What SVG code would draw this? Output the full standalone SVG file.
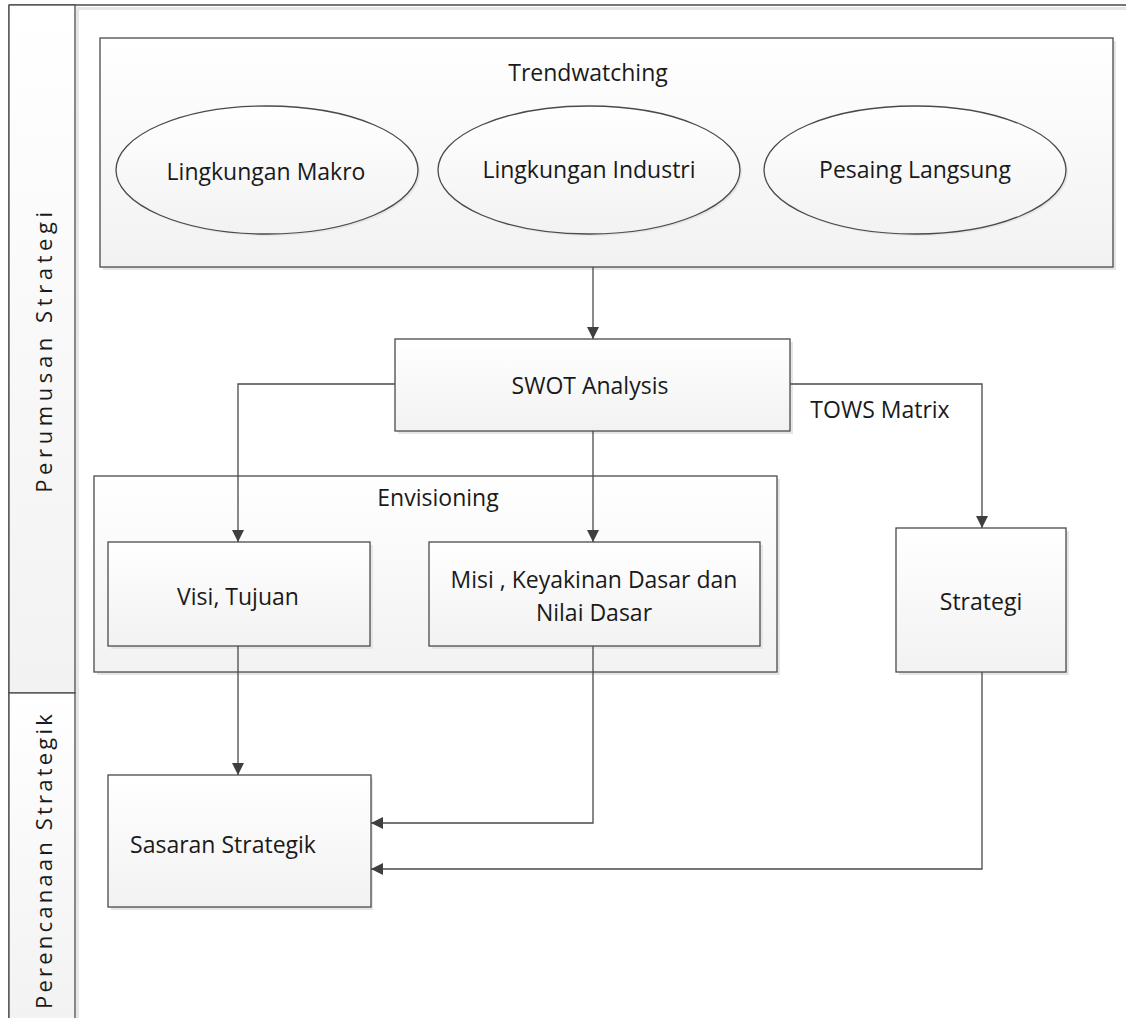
<svg xmlns="http://www.w3.org/2000/svg" width="1126" height="1018" viewBox="0 0 1126 1018">
  <defs>
    <linearGradient id="boxFill" x1="0" y1="0" x2="0" y2="1">
      <stop offset="0" stop-color="#ffffff"/>
      <stop offset="1" stop-color="#f2f2f2"/>
    </linearGradient>
    <linearGradient id="laneFill" x1="0" y1="0" x2="0" y2="1">
      <stop offset="0" stop-color="#ffffff"/>
      <stop offset="1" stop-color="#f2f2f2"/>
    </linearGradient>
    <marker id="arrow" viewBox="0 0 12 12" refX="12" refY="6" markerWidth="12" markerHeight="12" markerUnits="userSpaceOnUse" orient="auto">
      <path d="M0,0 L12,6 L0,12 Z" fill="#3f3f3f"/>
    </marker>
  </defs>
  <style>
    .shape { fill: url(#boxFill); stroke: #4a4a4a; stroke-width: 1.3; }
    .shadow { fill: #e6e6e6; }
    .label { font-family: "Open Sans", "Noto Sans", sans-serif; font-size: 23px; fill: #1a1a1a; text-anchor: middle; dominant-baseline: central; }
    .lane { font-family: "Open Sans", "Noto Sans", sans-serif; font-size: 22px; fill: #1a1a1a; text-anchor: middle; dominant-baseline: central; letter-spacing: 4.6px; }
    .lane.tight { letter-spacing: 3.2px; }
    .conn { fill: none; stroke: #4a4a4a; stroke-width: 1.3; }
  </style>

  <rect width="1126" height="1018" fill="#ffffff"/>

  <!-- Pool with two lanes -->
  <g id="pool">
    <rect x="77" y="7" width="1049" height="3" class="shadow"/>
    <rect x="76" y="7" width="3" height="1011" class="shadow"/>
    <line x1="9" y1="5" x2="1126" y2="5" stroke="#4a4a4a" stroke-width="1.3"/>
    <line x1="9" y1="5" x2="9" y2="1018" stroke="#4a4a4a" stroke-width="1.3"/>
  </g>
  <g id="lane-perumusan">
    <rect x="9" y="5" width="66" height="688" fill="url(#laneFill)" stroke="#4a4a4a" stroke-width="1.3"/>
    <text class="lane" transform="translate(43,350) rotate(-90)">Perumusan Strategi</text>
  </g>
  <g id="lane-perencanaan">
    <rect x="9" y="693" width="66" height="330" fill="url(#laneFill)" stroke="#4a4a4a" stroke-width="1.3"/>
    <text class="lane tight" transform="translate(43,860) rotate(-90)">Perencanaan Strategik</text>
  </g>

  <!-- Trendwatching group -->
  <g id="trendwatching">
    <rect x="103" y="41" width="1013" height="229" class="shadow"/>
    <rect x="100" y="38" width="1013" height="229" class="shape"/>
    <text class="label" x="588" y="72">Trendwatching</text>
  </g>
  <g id="lingkungan-makro">
    <ellipse cx="269" cy="172" rx="151" ry="64" class="shadow"/>
    <ellipse cx="267" cy="170" rx="151" ry="64" class="shape"/>
    <text class="label" x="266" y="171">Lingkungan Makro</text>
  </g>
  <g id="lingkungan-industri">
    <ellipse cx="591" cy="172" rx="151" ry="64" class="shadow"/>
    <ellipse cx="589" cy="170" rx="151" ry="64" class="shape"/>
    <text class="label" x="589" y="169">Lingkungan Industri</text>
  </g>
  <g id="pesaing-langsung">
    <ellipse cx="917" cy="172" rx="151" ry="64" class="shadow"/>
    <ellipse cx="915" cy="170" rx="151" ry="64" class="shape"/>
    <text class="label" x="915" y="169">Pesaing Langsung</text>
  </g>

  <!-- SWOT -->
  <g id="swot">
    <rect x="398" y="342" width="395" height="92" class="shadow"/>
    <rect x="395" y="339" width="395" height="92" class="shape"/>
    <text class="label" x="590" y="385">SWOT Analysis</text>
  </g>

  <!-- Envisioning container -->
  <g id="envisioning">
    <rect x="97" y="479" width="683" height="196" class="shadow"/>
    <rect x="94" y="476" width="683" height="196" class="shape"/>
    <text class="label" x="438" y="497">Envisioning</text>
  </g>
  <g id="visi">
    <rect x="111" y="545" width="262" height="104" class="shadow"/>
    <rect x="108" y="542" width="262" height="104" class="shape"/>
    <text class="label" x="238" y="596">Visi, Tujuan</text>
  </g>
  <g id="misi">
    <rect x="432" y="545" width="331" height="104" class="shadow"/>
    <rect x="429" y="542" width="331" height="104" class="shape"/>
    <text class="label" x="594" y="579">Misi , Keyakinan Dasar dan</text>
    <text class="label" x="594" y="612">Nilai Dasar</text>
  </g>

  <!-- Strategi -->
  <g id="strategi">
    <rect x="899" y="531" width="170" height="144" class="shadow"/>
    <rect x="896" y="528" width="170" height="144" class="shape"/>
    <text class="label" x="981" y="601">Strategi</text>
  </g>

  <!-- Sasaran Strategik -->
  <g id="sasaran">
    <rect x="111" y="778" width="262" height="132" class="shadow"/>
    <rect x="108" y="775" width="263" height="132" class="shape"/>
    <text class="label" x="223" y="844">Sasaran Strategik</text>
  </g>

  <!-- Connectors -->
  <g id="connectors">
    <path class="conn" d="M593,267 V339" marker-end="url(#arrow)"/>
    <path class="conn" d="M395,384 H238 V542" marker-end="url(#arrow)"/>
    <path class="conn" d="M593,431 V542" marker-end="url(#arrow)"/>
    <path class="conn" d="M790,384 H982 V528" marker-end="url(#arrow)"/>
    <path class="conn" d="M238,646 V775" marker-end="url(#arrow)"/>
    <path class="conn" d="M593,646 V823 H371" marker-end="url(#arrow)"/>
    <path class="conn" d="M982,672 V869 H371" marker-end="url(#arrow)"/>
    <text class="label" x="880" y="409">TOWS Matrix</text>
  </g>
</svg>
